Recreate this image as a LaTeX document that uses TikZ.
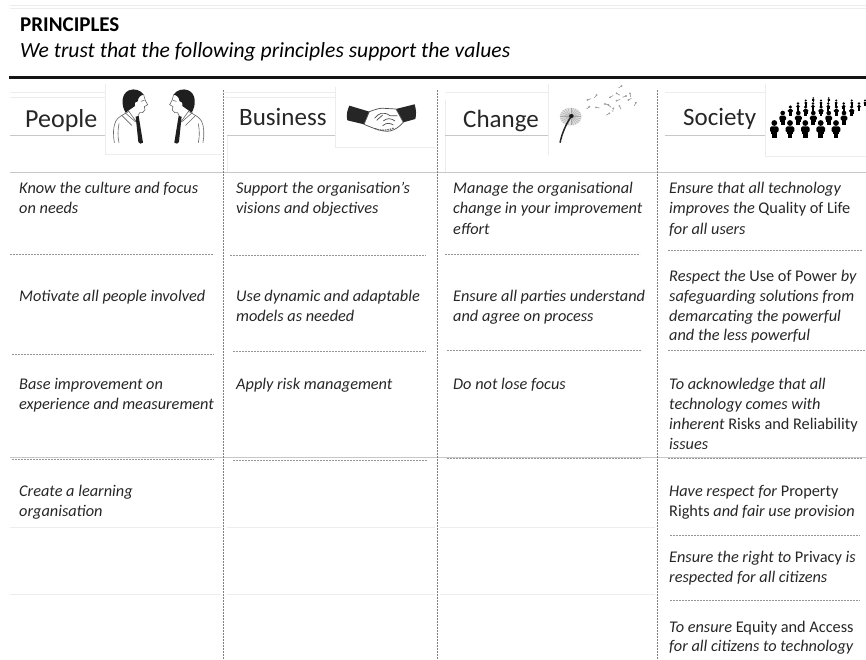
\documentclass[tikz,border=0pt]{standalone}
\usepackage{fontspec}
\setmainfont{Carlito}
\tikzset{
 body/.style={anchor=base west,inner sep=0pt,font=\fontsize{16.3}{20}\selectfont\itshape,text=black!85},
 head/.style={anchor=base west,inner sep=0pt,font=\fontsize{25}{28}\selectfont,text=black!85},
 faint/.style={draw=black!7,line width=0.7pt},
 soft/.style={draw=black!22,line width=0.8pt},
 vdash/.style={draw=black!50,line width=1pt,dash pattern=on 1.8pt off 1.2pt},
 hdash/.style={draw=black!42,line width=0.8pt,dash pattern=on 2pt off 1pt},
 sketch/.style={draw=black!60,line width=0.6pt,fill=none,line cap=round},
}
\newcommand{\sideman}{%
 \fill[black!88] (62,92) .. controls (48,70) and (48,35) .. (72,25) .. controls (88,18) and (108,25) .. (116,38) .. controls (106,40) and (100,45) .. (98,58) .. controls (92,58) and (88,62) .. (90,72) .. controls (82,78) and (72,84) .. (62,92) -- cycle;
 \draw[sketch] (116,38) .. controls (118,48) and (120,55) .. (128,68) -- (118,74) -- (120,84) .. controls (116,92) and (110,94) .. (104,92) -- (98,104);
 \draw[sketch] (108,58) -- (118,55);
 \draw[sketch] (72,88) .. controls (55,98) and (38,105) .. (32,118) .. controls (24,135) and (24,160) .. (28,182);
 \draw[sketch] (42,125) .. controls (38,145) and (38,165) .. (42,182);
 \draw[sketch] (70,86) -- (98,125);
 \draw[sketch] (50,100) -- (80,130);
 \draw[sketch] (60,92) -- (92,120);
 \fill[black!88] (92,104) -- (101,102) -- (114,182) -- (106,185) -- (100,180) -- cycle;
}
\newcommand{\crowdman}[3]{\begin{scope}[shift={(#1,#2)},scale=#3]
 \fill[black] (0,0) circle (2.9);
 \fill[black,rounded corners=1.5pt] (-4.3,3.4) rectangle (4.3,9.5);
 \fill[black] (-3,5) rectangle (3,11);
 \fill[black] (-2.3,10) rectangle (2.3,15);
 \end{scope}}
\begin{document}
\begin{tikzpicture}[x=1pt,y=-1pt]
\useasboundingbox (0,0) rectangle (866,660);
% faint frames
\draw[faint] (10,5) -- (866,5);
\draw[faint] (10,8) -- (866,8);
\draw[faint] (10,92) -- (105,92);
\draw[faint] (10,97) -- (105,97);
\draw[faint] (225,92) -- (335,92);
\draw[faint] (225,97) -- (335,97);
\draw[faint] (445,92) -- (548,92);
\draw[faint] (665,92) -- (765,92);
\draw[faint] (105,84) -- (105,154) -- (221,154);
\draw[faint] (335,87) -- (335,147) -- (435,147);
\draw[faint] (548,84) -- (548,155);
\draw[faint] (765,84) -- (765,156) -- (866,156);
\draw[faint] (227,135) -- (227,172);
\draw[faint] (445,100) -- (445,172);
\draw[faint] (10,527) -- (221,527) (227,527) -- (435,527);
\draw[faint] (10,594) -- (221,594) (227,594) -- (435,594);
\draw[faint] (440,527) -- (655,527) (440,594) -- (655,594);
% soft lines
\draw[soft] (10,135) -- (105,135) (227,135) -- (335,135) (445,135) -- (548,135) (665,135) -- (765,135);
\draw[soft] (10,172) -- (866,172);
\draw[soft] (10,457.5) -- (866,457.5);
% rule
\draw[line width=2.2pt,black!92] (9,77.5) -- (866,77.5);
% verticals
\foreach \x in {223,437,657} \draw[vdash] (\x,90) -- (\x,660);
% dashed row lines
\draw[hdash] (10,254) -- (213,254) (230,255) -- (426,255) (445,254) -- (640,254) (668,250) -- (862,250);
\draw[hdash] (12,354) -- (214,354) (233,351) -- (426,351) (447,350) -- (642,350) (668,350) -- (866,350);
\draw[hdash] (12,459) -- (214,459) (233,460) -- (427,460) (447,458) -- (642,458) (668,458) -- (862,458);
\draw[hdash] (670,535) -- (860,535) (670,600) -- (860,600);
% title
\node[anchor=base west,inner sep=0pt,font=\fontsize{21}{24}\selectfont\bfseries] (title) at (20,32) {PRINCIPLES};
\node[anchor=base west,inner sep=0pt,font=\fontsize{21.6}{24}\selectfont\itshape] (sub) at (20,58) {We trust that the following principles support the values};
% headers
\node[head,font=\fontsize{26}{28}\selectfont] (h1) at (25,128) {People};
\node[head] (h2) at (239,125.5) {Business};
\node[head] (h3) at (463,127.5) {Change};
\node[head] (h4) at (683,126) {Society};
% col 1
\node[body] (a1) at (19,194) {Know the culture and focus};
\node[body] (a1b) at (19,214) {on needs};
\node[body] (a2) at (19,301) {Motivate all people involved};
\node[body] (a3) at (19,389) {Base improvement on};
\node[body] (a3b) at (19,409) {experience and measurement};
\node[body] (a4) at (19,496) {Create a learning};
\node[body] (a4b) at (19,516) {organisation};
% col 2
\node[body] (b1) at (236,194) {Support the organisation’s};
\node[body] (b1b) at (236,214) {visions and objectives};
\node[body] (b2) at (236,301) {Use dynamic and adaptable};
\node[body] (b2b) at (236,321) {models as needed};
\node[body] (b3) at (236,389) {Apply risk management};
% col 3
\node[body] (c1) at (453,194) {Manage the organisational};
\node[body] (c1b) at (453,214) {change in your improvement};
\node[body] (c1c) at (453,234) {effort};
\node[body] (c2a) at (453,301) {Ensure all parties understand};
\node[body] (c2) at (453,321) {and agree on process};
\node[body] (c3) at (453,389) {Do not lose focus};
% col 4
\node[body] (d1) at (669,194) {Ensure that all technology};
\node[body] (d1b) at (669,214) {improves the \textup{Quality of Life}};
\node[body] (d1c) at (669,234) {for all users};
\node[body] (d2) at (669,281) {Respect the \textup{Use of Power} by};
\node[body] (d2b) at (669,301) {safeguarding solutions from};
\node[body] (d2c) at (669,321) {demarcating the powerful};
\node[body] (d2d) at (669,340.5) {and the less powerful};
\node[body] (d3) at (669,389) {To acknowledge that all};
\node[body] (d3b) at (669,409) {technology comes with};
\node[body] (d3c) at (669,429) {inherent \textup{Risks and Reliability}};
\node[body] (d3d) at (669,449) {issues};
\node[body] (d4) at (669,496) {Have respect for \textup{Property}};
\node[body] (d4b) at (669,516) {\textup{Rights} and fair use provision};
\node[body] (d5) at (669,562.5) {Ensure the right to \textup{Privacy} is};
\node[body] (d5b) at (669,582.5) {respected for all citizens};
\node[body] (d6) at (669,632.5) {To ensure \textup{Equity and Access}};
\node[body] (d6b) at (669,651.5) {for all citizens to technology};
% people icon
\begin{scope}[shift={(105,82)},xscale=1/3,yscale=1/3]\sideman\end{scope}
\begin{scope}[shift={(212.3,82)},xscale=-1/3,yscale=1/3]\sideman\end{scope}
% handshake
\begin{scope}[shift={(340,95)},xscale=1/3,yscale=1/3]
\fill[black!85] (28,32) -- (88,50) -- (72,88) -- (22,76) .. controls (18,60) and (22,45) .. (28,32) -- cycle;
\fill[black!85] (224,28) -- (168,42) -- (190,82) -- (226,72) .. controls (230,58) and (228,42) .. (224,28) -- cycle;
\draw[black!70,line width=0.7pt,fill=white] (88,50) .. controls (105,44) and (120,38) .. (132,40) -- (168,42) -- (190,82) .. controls (178,95) and (165,105) .. (150,108) .. controls (130,112) and (100,100) .. (72,88) -- cycle;
\draw[black!70,line width=0.7pt] (104,70) .. controls (115,55) and (130,48) .. (150,62) -- (172,62);
\draw[black!70,line width=0.7pt] (110,76) -- (128,60);
\draw[black!70,line width=0.7pt] (130,78) .. controls (140,68) and (155,70) .. (165,78);
\draw[black!70,line width=0.7pt] (128,92) .. controls (140,82) and (150,84) .. (160,90);
\draw[black!60,line width=1.3pt,dash pattern=on 1.5pt off 1pt] (105,101) .. controls (120,107) and (140,108) .. (162,99);
\end{scope}
% dandelion
\begin{scope}[shift={(550,80)},xscale=1/3,yscale=1/3]
\foreach \a in {0,15,...,345} {\draw[black!45,line width=0.35pt] (62,110) -- ++(\a:32 and 26);}
\fill[black!25,opacity=0.5] (62,110) circle (33 and 27);
\draw[black!85,line width=1.5pt] (30,188) .. controls (36,160) and (48,132) .. (62,112);
\fill[black!90] (64,108) circle (7 and 6);
\foreach \p/\q/\r in {215/18/150,240/40/80,258/68/120,200/40/30,200/62/-20,175/75/40,140/45/130,112/60/-20,118/80/140,138/82/10,178/100/150,208/78/60,235/60/-30,190/85/100,165/72/10,228/48/160,180/52/-30}
 {\draw[black!45,line width=0.55pt] (\p,\q) -- ++(\r:11);
  \fill[black!38] (\p,\q) circle (3.2);}
\end{scope}
% society crowd
\foreach \x in {774.3,790,805.3,820.7,836} {\crowdman{\x}{123}{1}}
\foreach \x in {782.7,798.3,813.3,828.7,844} {\crowdman{\x}{113}{0.8}}
\foreach \x in {790.3,805.7,821,836.3,851.7} {\crowdman{\x}{107}{0.6}}
\foreach \x in {798,813,828.3,843.7,859} {\crowdman{\x}{103.5}{0.47}}
\foreach \x in {805.7,821,836.3,851.7,865} {\crowdman{\x}{100.5}{0.38}}
\foreach \x in {813.3,828.7} {\crowdman{\x}{98}{0.3}}
\end{tikzpicture}
\end{document}
